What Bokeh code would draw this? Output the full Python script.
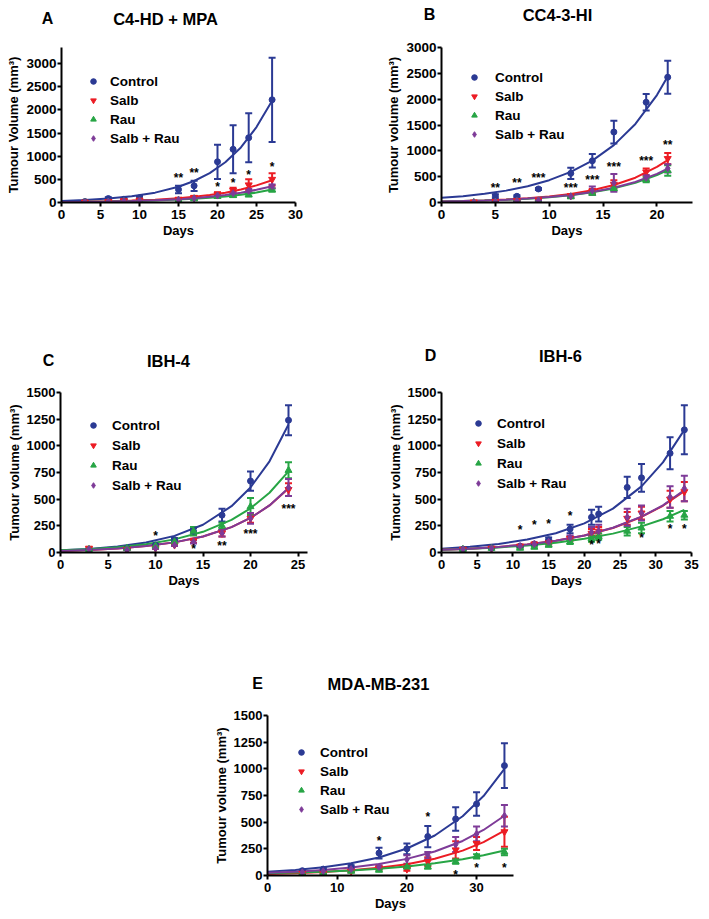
from bokeh.plotting import figure
from bokeh.models import (Range1d, FixedTicker, Whisker, TeeHead, ColumnDataSource,
                          Label, Legend, LegendItem, Spacer)
from bokeh.layouts import column, row
from bokeh.embed import file_html
from bokeh.resources import INLINE
from bokeh.core.properties import value

FONT = "Liberation Sans"
SERIES = ["Control", "Salb", "Rau", "Salb + Rau"]
COLORS = {"Control": "#2B3A94", "Salb": "#EC1C24", "Rau": "#27A545", "Salb + Rau": "#7E3B98"}
MARKERS = {"Control": "circle", "Salb": "inverted_triangle", "Rau": "triangle", "Salb + Rau": "diamond"}
SIZES = {"Control": 6, "Salb": 7, "Rau": 7, "Salb + Rau": 7}

# ---------------- Panel A : C4-HD + MPA ----------------
a_days = [3, 6, 8, 10, 15, 17, 20, 22, 24, 27]
a_control = [20, 85, 70, 100, 280, 360, 880, 1150, 1400, 2220]
a_control_err = [10, 30, 25, 40, 80, 110, 370, 520, 530, 910]
a_salb = [10, 20, 40, 50, 70, 110, 180, 260, 380, 500]
a_salb_err = [5, 10, 15, 20, 20, 30, 40, 60, 120, 130]
a_rau = [5, 10, 20, 30, 50, 80, 130, 150, 170, 270]
a_rau_err = [3, 5, 8, 10, 15, 15, 25, 30, 40, 30]
a_combo = [10, 20, 30, 40, 60, 90, 150, 200, 250, 350]
a_combo_err = [5, 8, 10, 12, 15, 20, 25, 30, 40, 40]
a_fit_days = [0, 3, 6, 9, 12, 15, 17, 19, 21, 23, 25, 27]
a_fit_control = [33, 53, 84, 134, 213, 340, 465, 636, 870, 1190, 1630, 2200]
a_fit_salb = [12, 18, 27, 41, 62, 94, 123, 162, 213, 280, 370, 480]
a_fit_rau = [10, 14, 21, 30, 44, 63, 80, 102, 132, 168, 215, 280]
a_fit_combo = [10, 15, 22, 33, 49, 72, 94, 123, 161, 210, 275, 350]
a_star_days = [15, 17, 20, 22, 24, 27]
a_star_vals = [600, 710, 390, 490, 650, 840]
a_star_text = ["**", "**", "*", "*", "*", "*"]

# ---------------- Panel B : CC4-3-HI ----------------
b_days = [3, 5, 7, 9, 12, 14, 16, 19, 21]
b_control_days = [5, 7, 9, 12, 14, 16, 19, 21]
b_control = [120, 120, 262, 564, 807, 1364, 1940, 2425]
b_control_err = [40, 20, 20, 110, 130, 220, 160, 320]
b_salb = [10, 20, 40, 50, 130, 220, 350, 590, 850]
b_salb_err = [5, 8, 10, 15, 30, 40, 80, 70, 110]
b_rau = [0, 10, 20, 30, 110, 180, 270, 440, 620]
b_rau_err = [3, 5, 8, 10, 20, 30, 40, 50, 100]
b_combo = [5, 15, 30, 40, 120, 230, 380, 480, 660]
b_combo_err = [3, 5, 8, 10, 25, 80, 170, 50, 80]
b_fit_days = [0, 2, 4, 6, 8, 10, 12, 14, 16, 18, 20, 21]
b_fit_control = [90, 123, 168, 230, 316, 432, 592, 810, 1110, 1520, 2080, 2440]
b_fit_salb = [20, 28, 41, 58, 82, 117, 167, 238, 338, 480, 690, 820]
b_fit_rau = [20, 28, 39, 53, 74, 102, 142, 197, 273, 380, 530, 625]
b_fit_combo = [20, 28, 39, 54, 76, 105, 147, 205, 285, 398, 555, 655]
b_star_days = [5, 7, 9, 12, 14, 16, 19, 21]
b_star_vals = [345, 430, 530, 335, 485, 740, 860, 1170]
b_star_text = ["**", "**", "***", "***", "***", "***", "***", "**"]

# ---------------- Panel C : IBH-4 ----------------
c_days = [3, 7, 10, 12, 14, 17, 20, 24]
c_control = [25, 40, 70, 120, 200, 350, 670, 1240]
c_control_err = [5, 8, 10, 15, 30, 60, 90, 140]
c_salb = [40, 30, 40, 70, 110, 180, 320, 590]
c_salb_err = [8, 5, 8, 10, 20, 30, 40, 60]
c_rau = [30, 40, 60, 100, 200, 250, 430, 770]
c_rau_err = [5, 8, 10, 15, 40, 30, 80, 75]
c_combo = [30, 25, 40, 70, 100, 180, 320, 610]
c_combo_err = [5, 5, 8, 10, 15, 30, 50, 80]
c_fit_days = [0, 3, 6, 9, 12, 15, 18, 20, 22, 24]
c_fit_control = [20, 33, 56, 93, 156, 260, 434, 610, 855, 1200]
c_fit_salb = [15, 24, 38, 60, 95, 150, 238, 324, 441, 600]
c_fit_rau = [20, 31, 50, 78, 123, 194, 306, 414, 560, 760]
c_fit_combo = [15, 24, 38, 60, 95, 150, 238, 324, 441, 605]
c_star_days = [10, 14, 17, 20, 24]
c_star_vals = [185, 62, 93, 200, 432]
c_star_text = ["*", "*", "**", "***", "***"]

# ---------------- Panel D : IBH-6 ----------------
d_days = [3, 7, 11, 13, 15, 18, 21, 22, 26, 28, 32, 34]
d_control = [30, 40, 60, 80, 120, 220, 330, 360, 610, 700, 930, 1150]
d_control_err = [5, 5, 10, 10, 20, 40, 70, 70, 100, 130, 150, 230]
d_salb = [30, 40, 60, 80, 90, 130, 180, 200, 320, 370, 500, 570]
d_salb_err = [5, 5, 8, 10, 15, 20, 40, 40, 60, 60, 80, 90]
d_rau = [30, 40, 40, 50, 70, 100, 130, 150, 200, 230, 340, 350]
d_rau_err = [5, 5, 8, 10, 15, 20, 30, 30, 40, 50, 50, 40]
d_combo = [30, 40, 60, 80, 100, 140, 190, 200, 330, 370, 520, 600]
d_combo_err = [5, 5, 8, 10, 15, 20, 50, 60, 80, 70, 100, 120]
d_fit_days = [0, 4, 8, 12, 16, 20, 24, 28, 31, 34]
d_fit_control = [35, 53, 80, 121, 181, 273, 411, 620, 845, 1150]
d_fit_salb = [25, 36, 52, 76, 110, 159, 230, 333, 438, 575]
d_fit_rau = [25, 35, 48, 66, 92, 128, 177, 245, 312, 400]
d_fit_combo = [25, 36, 52, 76, 110, 160, 232, 336, 442, 585]
d_star_days = [11, 13, 15, 18, 21, 22, 28, 32, 34]
d_star_vals = [238, 283, 292, 372, 95, 104, 164, 253, 244]
d_star_text = ["*"] * 9

# ---------------- Panel E : MDA-MB-231 ----------------
e_days = [5, 8, 12, 16, 20, 23, 27, 30, 34]
e_control = [45, 60, 80, 210, 250, 365, 530, 670, 1030]
e_control_err = [10, 10, 15, 50, 50, 100, 110, 110, 210]
e_salb = [20, 20, 40, 70, 60, 130, 240, 300, 410]
e_salb_err = [5, 5, 10, 15, 15, 40, 80, 60, 140]
e_rau = [20, 20, 40, 50, 80, 80, 130, 180, 220]
e_rau_err = [5, 5, 8, 10, 15, 15, 20, 20, 30]
e_combo = [30, 40, 60, 80, 150, 190, 290, 390, 560]
e_combo_err = [8, 8, 10, 15, 40, 30, 70, 70, 100]
e_fit_days = [0, 4, 8, 12, 16, 20, 24, 28, 31, 34]
e_fit_control = [35, 52, 77, 115, 169, 253, 375, 555, 745, 1000]
e_fit_salb = [15, 22, 33, 49, 72, 106, 157, 233, 313, 420]
e_fit_rau = [20, 27, 36, 48, 64, 85, 114, 152, 190, 235]
e_fit_combo = [25, 36, 52, 75, 108, 156, 225, 324, 427, 560]
e_star_days = [16, 23, 27, 30, 34]
e_star_vals = [353, 578, 37, 94, 94]
e_star_text = ["*"] * 5

# panel letters and titles
row1_titles = [("A", "C4-HD + MPA"), ("B", "CC4-3-HI")]
row2_titles = [("C", "IBH-4"), ("D", "IBH-6")]
row3_titles = [("E", "MDA-MB-231")]


def title_strip(h, entries):
    """entries: (x_letter, x_title, y_from_top, letter, title)"""
    t = figure(width=709, height=h, output_backend="svg", toolbar_location=None,
               x_range=Range1d(0, 709), y_range=Range1d(0, h), min_border=0,
               x_axis_location=None, y_axis_location=None)
    t.outline_line_color = None
    t.grid.visible = False
    for xl, xt, yt, letter, title in entries:
        t.add_layout(Label(x=xl, y=h - yt, text=letter, text_align="center",
                           text_baseline="middle", text_font=FONT, text_font_style="bold",
                           text_font_size="16px", text_color="black"))
        t.add_layout(Label(x=xt, y=h - yt, text=title, text_align="center",
                           text_baseline="middle", text_font=FONT, text_font_style="bold",
                           text_font_size="16.5px", text_color="black"))
    return t


def make_panel(cfg):
    p = figure(width=cfg["w"], height=cfg["h"], output_backend="svg", toolbar_location=None,
               x_range=Range1d(0, cfg["xmax"]), y_range=Range1d(0, cfg["ymax"]),
               min_border_left=cfg["bl"], min_border_right=cfg["br"],
               min_border_top=cfg["bt"], min_border_bottom=cfg["bb"])
    p.outline_line_color = None
    p.grid.visible = False
    p.xaxis.ticker = FixedTicker(ticks=cfg["xticks"])
    p.yaxis.ticker = FixedTicker(ticks=cfg["yticks"])
    p.xaxis.axis_label = "Days"
    p.yaxis.axis_label = cfg["ylabel"]
    for ax in (p.xaxis[0], p.yaxis[0]):
        ax.axis_line_width = 2
        ax.axis_line_color = "black"
        ax.major_tick_line_width = 2
        ax.major_tick_line_color = "black"
        ax.major_tick_out = 4
        ax.major_tick_in = 0
        ax.minor_tick_line_color = None
        ax.major_label_text_font = FONT
        ax.major_label_text_font_style = "bold"
        ax.major_label_text_font_size = cfg["tickfs"]
        ax.major_label_text_color = "black"
        ax.axis_label_text_font = FONT
        ax.axis_label_text_font_style = "bold"
        ax.axis_label_text_font_size = "13px"
        ax.axis_label_text_color = "black"
    p.yaxis.major_label_standoff = 1
    p.yaxis.axis_label_standoff = 2
    p.xaxis.major_label_standoff = 3
    p.xaxis.axis_label_standoff = 1

    for name, fy in zip(SERIES, cfg["fits"]):
        p.line(cfg["fit_days"], fy, line_color=COLORS[name], line_width=2)

    items = []
    for name, days, vals, errs in cfg["series"]:
        c = COLORS[name]
        src = ColumnDataSource(dict(x=days, y=vals,
                                    upper=[v + e for v, e in zip(vals, errs)],
                                    lower=[max(v - e, 0) for v, e in zip(vals, errs)]))
        w = Whisker(source=src, base="x", upper="upper", lower="lower",
                    line_color=c, line_width=2,
                    upper_head=TeeHead(size=7, line_color=c, line_width=2),
                    lower_head=TeeHead(size=7, line_color=c, line_width=2))
        p.add_layout(w)
        r = p.scatter("x", "y", source=src, marker=MARKERS[name], size=SIZES[name],
                      fill_color=c, line_color=c)
        items.append(LegendItem(label=name, renderers=[r]))

    p.text(x=cfg["star_days"], y=cfg["star_vals"], text=cfg["star_text"],
           text_align="center", text_baseline="middle", y_offset=3,
           text_font=value(FONT), text_font_size="12px", text_font_style="bold",
           text_color="black")

    leg = Legend(items=items, location=cfg["legloc"], orientation="vertical",
                 glyph_width=14, glyph_height=16, label_height=16,
                 spacing=cfg["legsp"], padding=0, margin=0,
                 label_standoff=cfg["legstand"],
                 label_text_font=FONT, label_text_font_style="bold",
                 label_text_font_size="13.5px", label_text_color="black",
                 border_line_color=None, background_fill_alpha=0)
    p.add_layout(leg)
    return p


pA = make_panel(dict(
    w=358, h=218, xmax=30, ymax=3350, bl=61, br=63, bt=17, bb=45,
    xticks=[0, 5, 10, 15, 20, 25, 30], yticks=[0, 500, 1000, 1500, 2000, 2500, 3000],
    ylabel="Tumour Volume (mm³)", tickfs="13.5px",
    fit_days=a_fit_days, fits=[a_fit_control, a_fit_salb, a_fit_rau, a_fit_combo],
    series=[("Control", a_days, a_control, a_control_err),
            ("Salb", a_days, a_salb, a_salb_err),
            ("Rau", a_days, a_rau, a_rau_err),
            ("Salb + Rau", a_days, a_combo, a_combo_err)],
    star_days=a_star_days, star_vals=a_star_vals, star_text=a_star_text,
    legloc=(25, 56), legsp=3, legstand=10))

pB = make_panel(dict(
    w=351, h=218, xmax=23.3, ymax=3000, bl=83, br=17, bt=7, bb=46,
    xticks=[0, 5, 10, 15, 20], yticks=[0, 500, 1000, 1500, 2000, 2500, 3000],
    ylabel="Tumour volume (mm³)", tickfs="13.5px",
    fit_days=b_fit_days, fits=[b_fit_control, b_fit_salb, b_fit_rau, b_fit_combo],
    series=[("Control", b_control_days, b_control, b_control_err),
            ("Salb", b_days, b_salb, b_salb_err),
            ("Rau", b_days, b_rau, b_rau_err),
            ("Salb + Rau", b_days, b_combo, b_combo_err)],
    star_days=b_star_days, star_vals=b_star_vals, star_text=b_star_text,
    legloc=(26, 60), legsp=3, legstand=14))

pC = make_panel(dict(
    w=358, h=228, xmax=26, ymax=1500, bl=60, br=51, bt=20, bb=47,
    xticks=[0, 5, 10, 15, 20, 25], yticks=[0, 250, 500, 750, 1000, 1250, 1500],
    ylabel="Tumour volume (mm³)", tickfs="13px",
    fit_days=c_fit_days, fits=[c_fit_control, c_fit_salb, c_fit_rau, c_fit_combo],
    series=[("Control", c_days, c_control, c_control_err),
            ("Salb", c_days, c_salb, c_salb_err),
            ("Rau", c_days, c_rau, c_rau_err),
            ("Salb + Rau", c_days, c_combo, c_combo_err)],
    star_days=c_star_days, star_vals=c_star_vals, star_text=c_star_text,
    legloc=(26, 59), legsp=4, legstand=12))

pD = make_panel(dict(
    w=351, h=228, xmax=35, ymax=1500, bl=83, br=18, bt=12, bb=48,
    xticks=[0, 5, 10, 15, 20, 25, 30, 35], yticks=[0, 250, 500, 750, 1000, 1250, 1500],
    ylabel="Tumour volume (mm³)", tickfs="13px",
    fit_days=d_fit_days, fits=[d_fit_control, d_fit_salb, d_fit_rau, d_fit_combo],
    series=[("Control", d_days, d_control, d_control_err),
            ("Salb", d_days, d_salb, d_salb_err),
            ("Rau", d_days, d_rau, d_rau_err),
            ("Salb + Rau", d_days, d_combo, d_combo_err)],
    star_days=d_star_days, star_vals=d_star_vals, star_text=d_star_text,
    legloc=(30, 61), legsp=4, legstand=12))

pE = make_panel(dict(
    w=351, h=224, xmax=35.3, ymax=1500, bl=87, br=18, bt=20, bb=44,
    xticks=[0, 10, 20, 30], yticks=[0, 250, 500, 750, 1000, 1250, 1500],
    ylabel="Tumour volume (mm³)", tickfs="13px",
    fit_days=e_fit_days, fits=[e_fit_control, e_fit_salb, e_fit_rau, e_fit_combo],
    series=[("Control", e_days, e_control, e_control_err),
            ("Salb", e_days, e_salb, e_salb_err),
            ("Rau", e_days, e_rau, e_rau_err),
            ("Salb + Rau", e_days, e_combo, e_combo_err)],
    star_days=e_star_days, star_vals=e_star_vals, star_text=e_star_text,
    legloc=(27, 58), legsp=3, legstand=12))

t1 = title_strip(30, [(47, 165, 18) + row1_titles[0], (429, 557, 14) + row1_titles[1]])
t2 = title_strip(124, [(48, 168, 112) + row2_titles[0], (430, 560, 107) + row2_titles[1]])
t3 = title_strip(95, [(257, 378, 83) + row3_titles[0]])

layout = column(t1, row(pA, pB), t2, row(pC, pD), t3,
                row(Spacer(width=180, height=224), pE))

open("out.html", "w").write(file_html(layout, INLINE))
